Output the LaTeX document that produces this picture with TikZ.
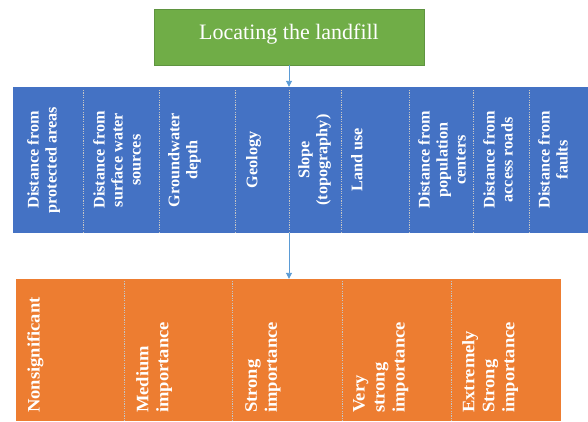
\documentclass[tikz,border=0pt]{standalone}
\usepackage{fontspec}
\setmainfont{Liberation Serif}
\newfontfamily\gradefont[FakeStretch=1.06]{Liberation Serif}
\usetikzlibrary{arrows.meta}
\definecolor{titlegreen}{HTML}{70AD47}
\definecolor{titleedge}{HTML}{5F9440}
\definecolor{factorblue}{HTML}{4472C4}
\definecolor{scaleorange}{HTML}{ED7D31}
\definecolor{linkblue}{HTML}{5B9BD5}
\definecolor{sepgrey}{HTML}{C4C4C4}

\begin{document}
\begin{tikzpicture}[x=1pt,y=-1pt,
  factor/.style={rotate=90,anchor=north,align=center,inner sep=0pt,text=white,
    font=\bfseries\fontsize{16.2}{18}\selectfont},
  grade/.style={rotate=90,anchor=north west,align=left,inner sep=0pt,text=white,
    font=\gradefont\bfseries\fontsize{17.5}{20}\selectfont},
  sep/.style={draw=sepgrey,line width=0.8pt,dash pattern=on 1.2pt off 1.2pt},
  link/.style={draw=linkblue,line width=0.9pt,-{Triangle[length=6pt,width=6pt]}}]

\useasboundingbox (0,0) rectangle (588,421);

% title box
\node (title) [fill=titlegreen,draw=titleedge,line width=0.6pt,
  minimum width=270pt,minimum height=56pt,inner sep=0pt,
  text=white,font=\fontsize{22}{26}\selectfont,text height=15pt,text depth=10pt]
  at (289,37) {Locating the landfill};

% criteria band
\node (factors) [fill=factorblue,minimum width=575pt,minimum height=146pt,inner sep=0pt]
  at (300.5,160) {};
\foreach \x in {83,159,235,289,341,409,473,529}
  \draw[sep] (\x,90) -- (\x,233);

\node (f1) [factor] at (27,160)  {Distance from\\protected areas};
\node (f2) [factor] at (93,160)  {Distance from\\surface water\\sources};
\node (f3) [factor] at (168,160) {Groundwater\\depth};
\node (f4) [factor] at (246,160) {Geology};
\node (f5) [factor] at (298,160) {Slope\\(topography)};
\node (f6) [factor] at (351,160) {Land use};
\node (f7) [factor] at (418,160) {Distance from\\population\\centers};
\node (f8) [factor] at (483,160) {Distance from\\access roads};
\node (f9) [factor] at (538,160) {Distance from\\faults};

% importance scale band
\node (scale) [fill=scaleorange,minimum width=545pt,minimum height=142pt,inner sep=0pt]
  at (288.5,350) {};
\foreach \x in {124,232,342,451}
  \draw[sep] (\x,281) -- (\x,421);

\node (g1) [grade] at (27,413)  {Nonsignificant};
\node (g2) [grade] at (136,413) {Medium\\importance};
\node (g3) [grade] at (245,413) {Strong\\importance};
\node (g4) [grade] at (353,413) {Very\\strong\\importance};
\node (g5) [grade] at (462,413) {Extremely\\Strong\\importance};

% connectors
\draw[link] (title.south) -- (title.south |- factors.north);
\draw[link] (title.south |- factors.south) -- (title.south |- scale.north);
\end{tikzpicture}
\end{document}
